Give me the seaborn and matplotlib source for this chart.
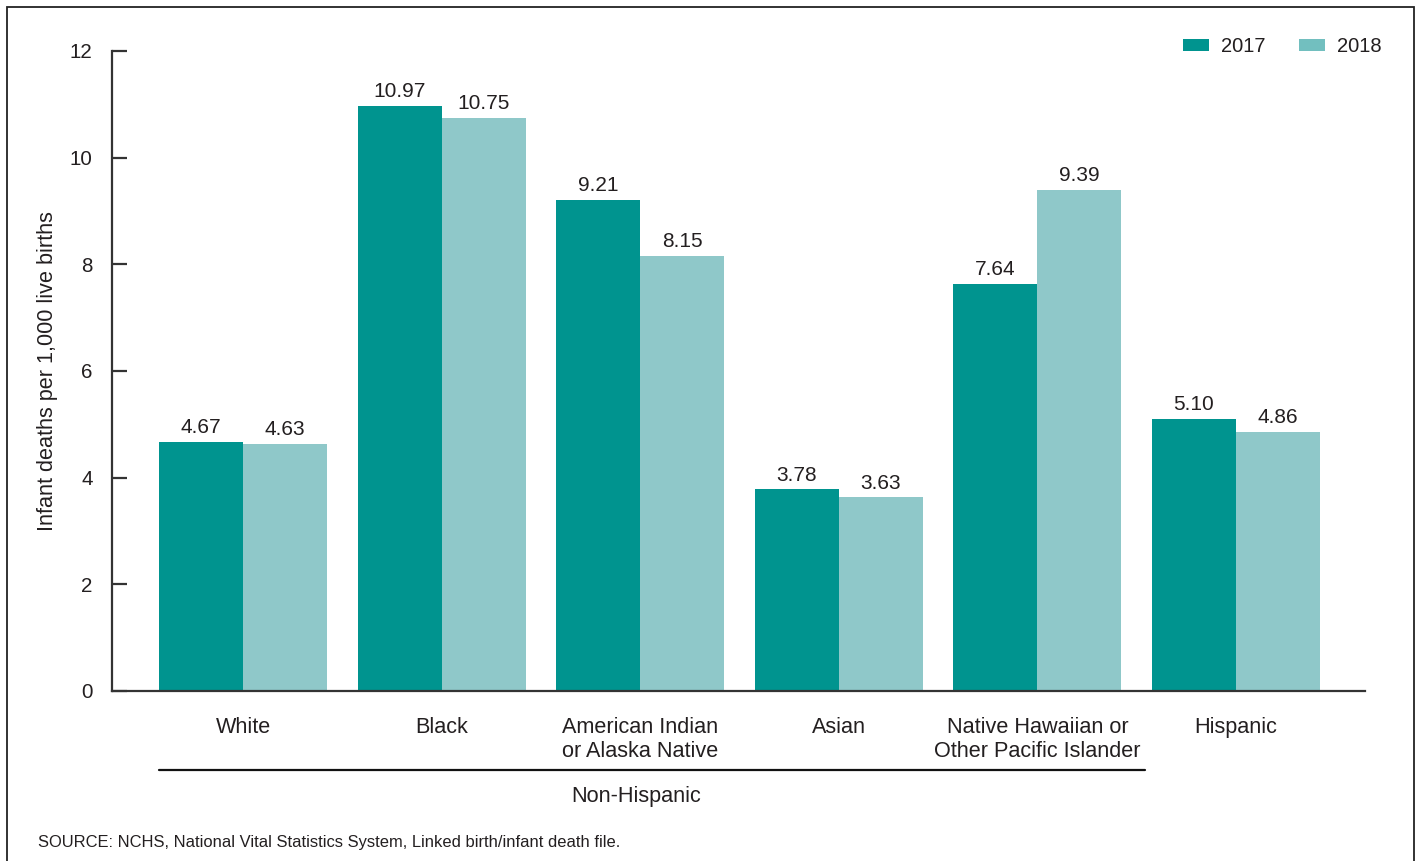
import matplotlib
matplotlib.use("Agg")
import matplotlib.pyplot as plt
import matplotlib.transforms as mtransforms
from matplotlib.patches import Patch, Rectangle
import seaborn as sns
import pandas as pd

categories = ["White", "Black", "American Indian\nor Alaska Native", "Asian",
              "Native Hawaiian or\nOther Pacific Islander", "Hispanic"]
years = ["2017", "2018"]
rate_2017 = [4.67, 10.97, 9.21, 3.78, 7.64, 5.10]
rate_2018 = [4.63, 10.75, 8.15, 3.63, 9.39, 4.86]
y_ticks = [0, 2, 4, 6, 8, 10, 12]

df = pd.DataFrame({
    "group": categories * 2,
    "year": [years[0]] * len(categories) + [years[1]] * len(categories),
    "rate": rate_2017 + rate_2018,
})

sns.set_theme(style="white")
plt.rcParams["font.family"] = ["Liberation Sans", "DejaVu Sans"]
text_color = "#231f20"
c17 = "#00948f"
c18 = "#8fc8c9"

fig = plt.figure(figsize=(14.22, 8.61), dpi=100)
ax = fig.add_axes([112 / 1422, 1 - 691 / 861, (1365 - 112) / 1422, (691 - 51) / 861])

sns.barplot(data=df, x="group", y="rate", hue="year", order=categories,
            hue_order=years, palette=[c17, c18], width=0.845, gap=0,
            saturation=1, ax=ax, legend=False, errorbar=None, linewidth=0)

for cont in ax.containers:
    ax.bar_label(cont, fmt="%.2f", padding=3.5, fontsize=15, color=text_color)

ax.set_ylim(0, 12)
ax.set_xlim(-0.66, 5.65)
ax.set_yticks(y_ticks)
ax.set_xlabel("")
ax.set_ylabel("Infant deaths per 1,000 live births", fontsize=15.6, color=text_color)
ax.yaxis.set_label_coords(-0.043, 0.5)

for side in ["top", "right"]:
    ax.spines[side].set_visible(False)
for side in ["left", "bottom"]:
    ax.spines[side].set_color("#333333")
    ax.spines[side].set_linewidth(1.6)

ax.tick_params(axis="y", direction="in", length=11, width=1.6, color="#333333",
               labelsize=14.8, labelcolor=text_color, pad=14, left=True)
ax.tick_params(axis="x", length=0, labelsize=15.6, labelcolor=text_color, pad=18.5)

# Non-Hispanic bracket
trans = mtransforms.blended_transform_factory(ax.transData, ax.transAxes)
ax.plot([-0.4225, 4.54], [-0.1234, -0.1234], transform=trans, color="#111111",
        lw=1.6, clip_on=False)
ax.text(1.98, -0.1645, "Non-Hispanic", transform=trans,
        ha="center", va="center", fontsize=15.6, color=text_color)

# Legend
handles = [Patch(facecolor=c17, edgecolor="none", label="2017"),
           Patch(facecolor="#72bfbf", edgecolor="none", label="2018")]
fig.legend(handles=handles, loc="upper right", bbox_to_anchor=(1400 / 1422, 1 - 19 / 861),
           ncol=2, frameon=False, fontsize=14.5, handlelength=1.3, handleheight=0.6,
           handletextpad=0.6, columnspacing=1.65, labelcolor=text_color)

fig.text(38 / 1422, 1 - 842 / 861, "SOURCE: NCHS, National Vital Statistics System, Linked birth/infant death file.",
         fontsize=11.9, color=text_color, ha="left", va="center")

# outer border (open at the bottom)
fig.patches.append(Rectangle((7 / 1422, -0.05), (1414 - 7) / 1422, 1.05 - 7 / 861,
                             transform=fig.transFigure, fill=False,
                             edgecolor="#222222", lw=1.3))

fig.savefig("out.png", dpi=100)
